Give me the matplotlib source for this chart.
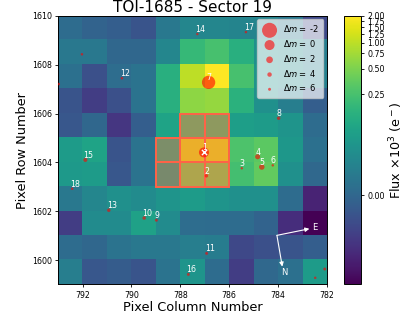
import numpy as np
import matplotlib
matplotlib.use('Agg')
import matplotlib.pyplot as plt
import matplotlib.patches as patches
from matplotlib.colors import FuncNorm

# ---------------------------------------------------------
# Data (flux in units of 1e3 e-), rows from 1609 (top) to 1599 (bottom),
# columns from 792 (left) to 782 (right)
# ---------------------------------------------------------
flux = np.array([
    [0.003, -0.002, -0.004, -0.008, 0.012, 0.028, 0.028, 0.025, 0.025, 0.012, -0.011],
    [0.012, 0.012, -0.000, -0.000, 0.028, 0.187, 0.252, 0.137, 0.044, 0.036, 0.019],
    [0.006, -0.009, 0.004, 0.008, 0.137, 0.992, 2.000, 0.252, 0.053, 0.040, 0.022],
    [-0.008, -0.013, -0.009, 0.008, 0.137, 0.604, 0.649, 0.148, 0.044, 0.019, -0.004],
    [-0.007, -0.000, -0.014, -0.004, 0.091, 0.234, 0.234, 0.077, 0.070, 0.053, 0.003],
    [0.070, 0.091, -0.008, 0.008, 0.126, 1.409, 1.409, 0.272, 0.339, 0.059, 0.006],
    [0.064, 0.070, -0.007, 0.008, 0.091, 0.487, 0.487, 0.234, 0.365, 0.044, 0.001],
    [0.012, 0.028, 0.044, 0.036, 0.053, 0.070, 0.053, 0.044, 0.044, 0.003, -0.016],
    [-0.013, 0.036, 0.036, 0.084, 0.036, 0.004, 0.003, 0.003, -0.002, -0.015, -0.018],
    [0.003, -0.000, 0.008, 0.012, 0.012, 0.019, 0.017, -0.011, -0.009, -0.008, -0.004],
    [0.019, -0.007, -0.005, -0.008, 0.008, 0.053, 0.003, -0.013, 0.001, 0.006, 0.070],
])
col_left, col_right = 793, 782
row_bottom, row_top = 1599, 1610

# aperture pixels (lower column edge, lower row edge)
ap_cols = [787, 786, 788, 787, 786, 788, 787, 786]
ap_rows = [1605, 1605, 1604, 1604, 1604, 1603, 1603, 1603]

# Gaia sources: label, column, row, magnitude difference to target
star_ids = ['1', '2', '3', '4', '5', '6', '7', '8', '9', '10', '11', '12',
            '13', '14', '15', '16', '17', '18', '', '', '', '']
star_cols = [787.03, 786.93, 785.48, 784.83, 784.66, 784.21, 786.84, 783.97,
             788.98, 789.48, 786.92, 790.39, 790.93, 787.30, 791.89, 787.67,
             785.31, 792.43, 792.03, 792.98, 782.47, 782.08]
star_rows = [1604.41, 1603.45, 1603.76, 1604.23, 1603.81, 1603.88, 1607.28, 1605.81,
             1601.63, 1601.72, 1600.27, 1607.45, 1602.04, 1609.26, 1604.10, 1599.41,
             1609.34, 1602.92, 1608.43, 1607.21, 1599.27, 1599.63]
star_dm = [0.0, 5.2, 6.8, 3.4, 3.0, 6.8, -1.4, 5.2,
           6.0, 5.2, 6.0, 6.8, 5.2, 6.8, 4.5, 6.0,
           6.8, 6.8, 6.8, 6.8, 6.8, 6.0]
legend_dm = [-2, 0, 2, 4, 6]

cbar_ticks = [0.0, 0.25, 0.5, 0.75, 1.0, 1.25, 1.5, 1.75, 2.0]

# ---------------------------------------------------------
# Log stretch normalisation
# ---------------------------------------------------------
vmin, vmax = flux.min(), flux.max()


def fwd(v):
    x = (np.asarray(v, dtype=float) - vmin) / (vmax - vmin)
    return np.log10(1000.0 * np.clip(x, 0, None) + 1.0)


def inv(y):
    return vmin + (vmax - vmin) * (10.0 ** np.asarray(y, dtype=float) - 1.0) / 1000.0


norm = FuncNorm((fwd, inv), vmin=vmin, vmax=vmax)

# ---------------------------------------------------------
# Plotting
# ---------------------------------------------------------
fig = plt.figure(figsize=(4.07, 3.23), dpi=100)
ax = fig.add_axes([0.1432, 0.1195, 0.6595, 0.831])
cax = fig.add_axes([0.845, 0.1195, 0.0425, 0.831])

im = ax.imshow(flux, cmap='viridis', norm=norm, origin='upper',
               extent=(col_left, col_right, row_bottom, row_top),
               interpolation='nearest')

for c, r in zip(ap_cols, ap_rows):
    ax.add_patch(patches.Rectangle((c, r), 1, 1, color='tomato', fill=True, alpha=0.4, lw=0))
    ax.add_patch(patches.Rectangle((c, r), 1, 1, edgecolor='tomato', fill=False, lw=1.4))

s0 = 52.0
sizes = [s0 / 1.5 ** dm for dm in star_dm]
ax.scatter(star_cols, star_rows, s=sizes, c='red', alpha=0.6, edgecolors='none', zorder=10)
ax.scatter(star_cols[0], star_rows[0], marker='x', c='white', s=14, lw=1.0, zorder=11)

for lab, c, r in zip(star_ids, star_cols, star_rows):
    if lab:
        ax.annotate(lab, (c, r), xytext=(-2, 0), textcoords='offset pixels',
                    ha='left', va='bottom', color='white', fontsize=5.7, zorder=12)

# legend
for dm in legend_dm:
    ax.scatter([], [], s=s0 / 1.5 ** dm, c='red', alpha=0.6, edgecolors='none',
               label=r'$\Delta m=$ %i' % dm)
ax.legend(loc='upper right', fontsize=6, framealpha=0.7, labelspacing=0.45,
          borderpad=0.5, handletextpad=0.6, borderaxespad=0.4)

# compass
orig = (784.04, 1601.01)
e_tip = (782.71, 1601.28)
n_tip = (783.82, 1599.73)
for tip, lab, lpos in [(e_tip, 'E', (782.48, 1601.32)), (n_tip, 'N', (783.74, 1599.47))]:
    ax.annotate('', xy=tip, xytext=orig,
                arrowprops=dict(arrowstyle='-|>', color='white', lw=0.8,
                                mutation_scale=6, shrinkA=0, shrinkB=0))
    ax.text(lpos[0], lpos[1], lab, color='white', fontsize=6, ha='center', va='center')

ax.set_xlim(col_left, col_right)
ax.set_ylim(row_bottom, row_top)
ax.set_xticks([792, 790, 788, 786, 784, 782])
ax.set_yticks([1600, 1602, 1604, 1606, 1608, 1610])
ax.tick_params(labelsize=5.7, length=2.5, width=0.6, pad=2)
for sp in ax.spines.values():
    sp.set_linewidth(0.7)

ax.set_title('TOI-1685 - Sector 19', fontsize=11, pad=3)
ax.set_xlabel('Pixel Column Number', fontsize=9.3, labelpad=1)
ax.set_ylabel('Pixel Row Number', fontsize=9.3, labelpad=2)

cbar = fig.colorbar(im, cax=cax, ticks=cbar_ticks, format='%.2f')
cbar.ax.tick_params(labelsize=5.7, length=2.5, width=0.6, pad=2)
cbar.ax.minorticks_off()
cbar.outline.set_linewidth(0.7)
cbar.set_label(r'Flux $\times10^3$ (e$^-$)', fontsize=9.2, labelpad=2)

fig.savefig('out.png', dpi=100)
